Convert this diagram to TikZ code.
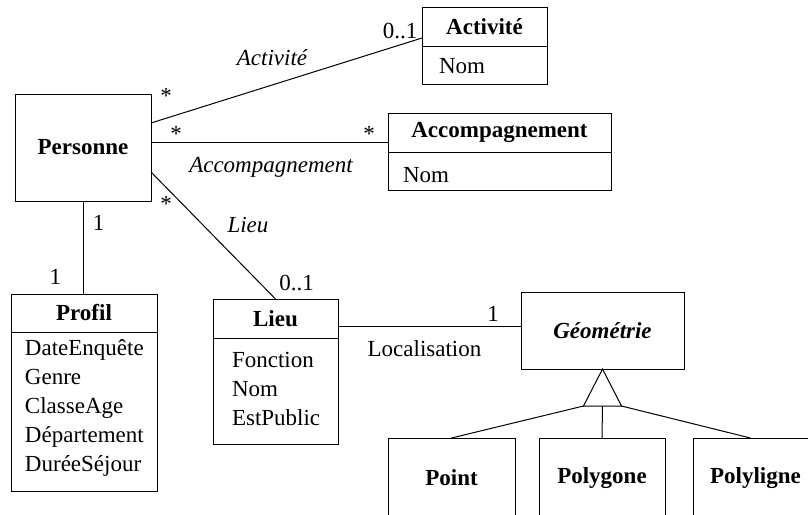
\documentclass[tikz,border=0pt]{standalone}
\usepackage{fontspec}
\setmainfont{Liberation Serif}
\usetikzlibrary{positioning}
\newdimen\pxu \pxu=0.5pt

\begin{document}
\begin{tikzpicture}[
  x=0.5pt, y=-0.5pt,
  line width=0.5pt,
  font=\fontsize{11.5}{14.4}\selectfont,
  every node/.style={outer sep=0pt},
  cls/.style={draw, inner sep=0pt, font=\fontsize{11.5}{14.4}\selectfont\bfseries},
  attrbox/.style={draw, inner sep=0pt},
  attrs/.style={align=left, inner sep=0pt, anchor=base west},
  mult/.style={inner sep=0pt},
  role/.style={inner sep=0pt, font=\fontsize{11.5}{14.4}\selectfont\itshape}
]
\clip (0,0) rectangle (808,514);

% classes
\node[cls, minimum width=136\pxu, minimum height=107\pxu] (pers) at (83,147.5) {Personne};

\node[cls, minimum width=125\pxu, minimum height=39\pxu] (acth) at (484.5,26.5) {Activité};
\node[attrbox, below=0pt of acth, minimum width=125\pxu, minimum height=38\pxu] (actb) {};
\node[attrs] (acta) at (439,73) {Nom};

\node[cls, minimum width=223\pxu, minimum height=39\pxu] (acch) at (499.5,132.5) {Accompagnement};
\node[attrbox, below=0pt of acch, minimum width=223\pxu, minimum height=38\pxu] (accb) {};
\node[attrs] (acca) at (403,182) {Nom};

\node[cls, minimum width=146\pxu, minimum height=38\pxu] (profh) at (84,313) {Profil};
\node[attrbox, below=0pt of profh, minimum width=146\pxu, minimum height=159\pxu] (profb) {};
% base = last line
\node[attrs] (profa) at (25,471) {DateEnquête\\Genre\\ClasseAge\\Département\\DuréeSéjour};

\node[cls, minimum width=125\pxu, minimum height=39\pxu] (lieuh) at (275.5,318.5) {Lieu};
\node[attrbox, below=0pt of lieuh, minimum width=125\pxu, minimum height=106\pxu] (lieub) {};
\node[attrs] (lieua) at (232,425.5) {Fonction\\Nom\\EstPublic};

\node[cls, minimum width=163\pxu, minimum height=77\pxu] (geo) at (602.5,330.5) {\itshape Géométrie};

\node[cls, minimum width=127\pxu, minimum height=80\pxu] (point) at (451.5,478) {Point};
\node[cls, minimum width=126\pxu, minimum height=80\pxu] (polyg) at (602,478) {Polygone};
\node[cls, minimum width=125\pxu, minimum height=80\pxu] (polyl) at (755.5,478) {Polyligne};

% associations
\draw ([yshift=24.5\pxu]pers.east) -- ([yshift=-11.5\pxu]acth.west);
\draw ([yshift=5.5\pxu]pers.east) coordinate (pb) -- (pb -| acch.west);
\draw ([yshift=-24.5\pxu]pers.east) -- (lieuh.north);
\draw (pers.south) -- (pers.south |- profh.north);
\draw ([yshift=-8\pxu]lieuh.east) coordinate (lz) -- (lz -| geo.west);

% generalisation
\draw (geo.south) -- ++(-19,37) coordinate (gl) -- ++(38,0) coordinate (gr) -- cycle;
\draw (gl) -- (point.north);
\draw (geo.south |- gl) -- (polyg.north);
\draw (gr) -- ([xshift=-5\pxu]polyl.north);

% labels
\node[mult] (m1) at (166,95.5) {*};
\node[mult] (m2) at (400,31.5) {0..1};
\node[role] (r1) at (272,58) {Activité};
\node[mult] (m3) at (176,133.5) {*};
\node[mult] (m4) at (369,133.5) {*};
\node[role] (r2) at (271,167) {Accompagnement};
\node[mult] (m5) at (166,203.5) {*};
\node[role] (r3) at (248,225) {Lieu};
\node[mult] (m6) at (296.5,283.5) {0..1};
\node[mult] (m7) at (98.5,222.5) {1};
\node[mult] (m8) at (55.5,277) {1};
\node[mult] (m9) at (493,313.5) {1};
\node[mult] (loc) at (424.5,348.5) {Localisation};
\end{tikzpicture}
\end{document}
